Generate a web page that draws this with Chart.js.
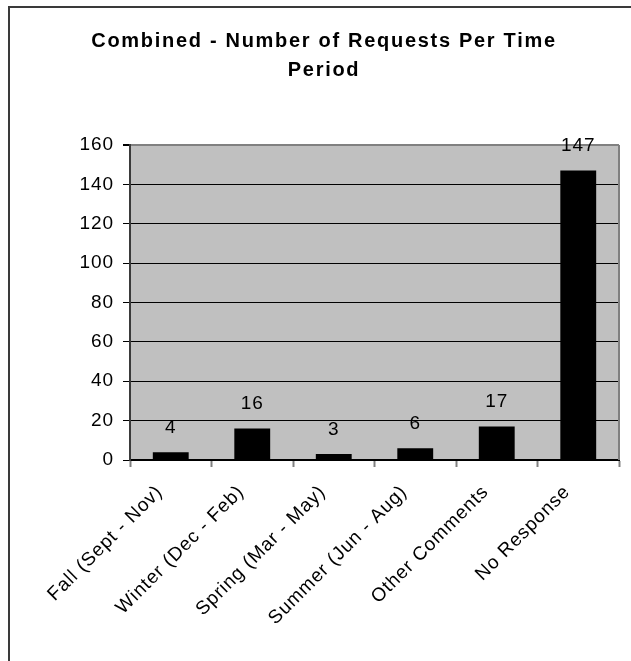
<!DOCTYPE html>
<html>
<head>
<meta charset="utf-8">
<script src="https://cdn.jsdelivr.net/npm/chart.js@4.4.1/dist/chart.umd.min.js"></script>
<style>
  body { margin: 0; background: #fff; }
  canvas { display: block; }
</style>
</head>
<body>
<canvas id="myChart" width="631" height="661"></canvas>
<script>
const categories = ['Fall (Sept - Nov)', 'Winter (Dec - Feb)', 'Spring (Mar - May)', 'Summer (Jun - Aug)', 'Other Comments', 'No Response'];
const requests = [4, 16, 3, 6, 17, 147];
const titleLines = ['Combined - Number of Requests Per Time', 'Period'];
const yMax = 160;
const yStep = 20;

Chart.defaults.font.family = '"Liberation Sans", Arial, sans-serif';
Chart.defaults.color = '#000';

// the old excel text is a bit spread out, so widen every label a little
const spacing = '0.9px';
const labelSize = 19;

// gray plot area, frame, title and the value labels above the bars
const excelLook = {
    id: 'excelLook',
    beforeUpdate(chart) {
        chart.ctx.letterSpacing = spacing;
    },
    beforeDraw(chart) {
        const c = chart.ctx;
        const a = chart.chartArea;
        c.letterSpacing = spacing;
        c.save();
        c.fillStyle = '#c0c0c0';
        c.fillRect(a.left, a.top, a.right - a.left, a.bottom - a.top);
        // outer frame (cut off at right and bottom)
        c.fillStyle = '#3a3a3a';
        c.fillRect(8, 6, chart.width - 8, 2);
        c.fillRect(8, 6, 2, chart.height - 6);
        // title
        c.fillStyle = '#000';
        c.font = 'bold 20px "Liberation Sans", Arial, sans-serif';
        c.letterSpacing = '1.7px';
        c.textAlign = 'center';
        c.textBaseline = 'alphabetic';
        c.fillText(titleLines[0], 324, 47);
        c.fillText(titleLines[1], 324, 76);
        c.restore();
    },
    afterDraw(chart) {
        const c = chart.ctx;
        const a = chart.chartArea;
        c.save();
        c.strokeStyle = '#808080';
        c.lineWidth = 2;
        c.beginPath();
        c.moveTo(a.right, a.top);
        c.lineTo(a.right, a.bottom);
        c.stroke();
        c.fillStyle = '#000';
        c.font = labelSize + 'px "Liberation Sans", Arial, sans-serif';
        c.textAlign = 'center';
        c.textBaseline = 'alphabetic';
        chart.getDatasetMeta(0).data.forEach((bar, i) => {
            c.fillText(String(requests[i]), bar.x, bar.y - 19.5);
        });
        c.restore();
    }
};

new Chart(document.getElementById('myChart'), {
    type: 'bar',
    data: {
        labels: categories,
        datasets: [{
            label: 'Requests',
            data: requests,
            backgroundColor: '#000',
            borderWidth: 0,
            barPercentage: 0.44,
            categoryPercentage: 1
        }]
    },
    options: {
        responsive: false,
        devicePixelRatio: 1,
        animation: false,
        layout: { padding: { top: 145, right: 12, left: 0, bottom: 0 } },
        plugins: {
            legend: { display: false },
            title: { display: false },
            tooltip: { enabled: false }
        },
        scales: {
            x: {
                afterFit(scale) { scale.height = 201; },
                grid: {
                    drawOnChartArea: false,
                    offset: true,
                    tickLength: 7,
                    tickColor: '#808080',
                    tickWidth: 2
                },
                border: { color: '#000', width: 2 },
                ticks: {
                    minRotation: 45,
                    maxRotation: 45,
                    autoSkip: false,
                    padding: 14,
                    labelOffset: -11,
                    font: { size: labelSize }
                }
            },
            y: {
                min: 0,
                max: yMax,
                afterFit(scale) { scale.width = 130; },
                grid: {
                    color: (ctx) => ctx.tick && ctx.tick.value === yMax ? '#808080' : '#000',
                    lineWidth: (ctx) => ctx.tick && ctx.tick.value === yMax ? 2 : 1,
                    tickColor: '#000',
                    tickLength: 7
                },
                border: { color: '#3a3a3a', width: 2 },
                ticks: {
                    stepSize: yStep,
                    padding: 9,
                    font: { size: labelSize }
                }
            }
        }
    },
    plugins: [excelLook]
});
</script>
</body>
</html>
